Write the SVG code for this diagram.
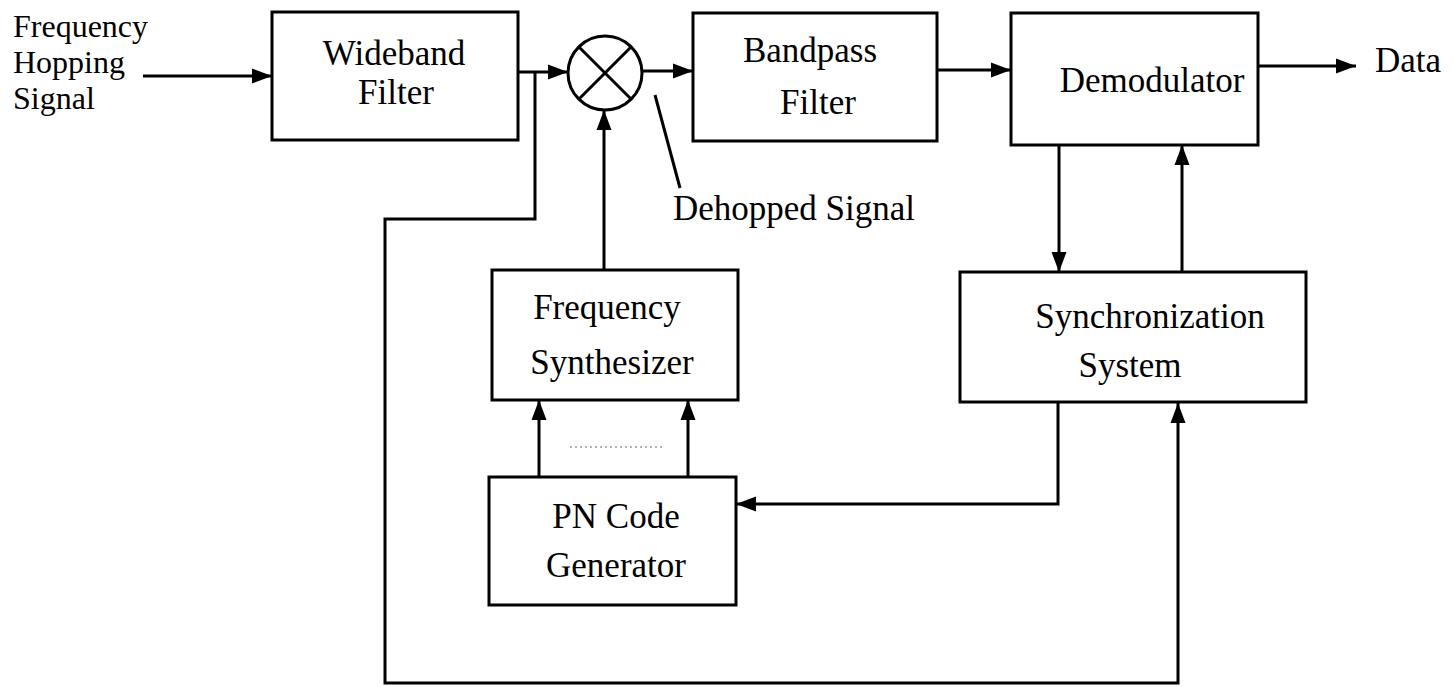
<svg xmlns="http://www.w3.org/2000/svg" width="1454" height="687" viewBox="0 0 1454 687">
<style>
.box{fill:#fff;stroke:#000;stroke-width:3}
.ln{fill:none;stroke:#000;stroke-width:3}
.arr{fill:none;stroke:#000;stroke-width:3;marker-end:url(#ah)}
text{font-family:"Liberation Serif","Times New Roman",serif;font-size:35px;fill:#000}
.c{text-anchor:middle}
.in{font-size:32px}
</style>
<defs>
<marker id="ah" markerUnits="userSpaceOnUse" markerWidth="22" markerHeight="18" refX="20" refY="9" orient="auto">
<path d="M0,1.5 L20,9 L0,16.5 Z" fill="#000"/>
</marker>
</defs>
<rect width="1454" height="687" fill="#fff"/>
<g id="connectors">
<line class="arr" x1="143" y1="76" x2="272" y2="76"/>
<line class="arr" x1="518" y1="72" x2="568" y2="72"/>
<polyline class="arr" points="535,72 535,219 385,219 385,683 1178,683 1178,403"/>
<line class="arr" x1="642" y1="71" x2="693" y2="71"/>
<line class="arr" x1="937" y1="70" x2="1011" y2="70"/>
<line class="arr" x1="1258" y1="66" x2="1356" y2="66"/>
<line class="arr" x1="1059" y1="145" x2="1059" y2="272"/>
<line class="arr" x1="1182" y1="272" x2="1182" y2="145"/>
<polyline class="arr" points="1058,402 1058,504 736,504"/>
<line class="arr" x1="539" y1="477" x2="539" y2="400"/>
<line class="arr" x1="688" y1="477" x2="688" y2="400"/>
<line class="arr" x1="604" y1="270" x2="604" y2="110"/>
<line x1="570" y1="447" x2="663" y2="447" stroke="#999" stroke-width="1.5" stroke-dasharray="2,3"/>
<line class="ln" x1="655" y1="95" x2="680" y2="188" stroke-width="2.5"/>
</g>
<g id="input-label">
<text class="in" x="13" y="37">Frequency</text>
<text class="in" x="13" y="73">Hopping</text>
<text class="in" x="13" y="109">Signal</text>
</g>
<g id="wideband-filter">
<rect class="box" x="272" y="12" width="246" height="128"/>
<text class="c" x="394" y="65">Wideband</text>
<text class="c" x="396" y="104">Filter</text>
</g>
<g id="mixer">
<circle cx="605" cy="73" r="37" fill="#fff" stroke="#000" stroke-width="3"/>
<line class="ln" x1="579" y1="47" x2="631" y2="99"/>
<line class="ln" x1="631" y1="47" x2="579" y2="99"/>
</g>
<g id="bandpass-filter">
<rect class="box" x="693" y="13" width="244" height="128"/>
<text class="c" x="810" y="62">Bandpass</text>
<text class="c" x="818" y="114">Filter</text>
</g>
<g id="demodulator">
<rect class="box" x="1011" y="13" width="247" height="132"/>
<text class="c" x="1152" y="92">Demodulator</text>
</g>
<g id="data-label">
<text x="1375" y="72">Data</text>
</g>
<g id="dehopped-label">
<text x="673" y="220">Dehopped Signal</text>
</g>
<g id="frequency-synthesizer">
<rect class="box" x="492" y="270" width="246" height="130"/>
<text class="c" x="607" y="319">Frequency</text>
<text class="c" x="612" y="374">Synthesizer</text>
</g>
<g id="pn-code-generator">
<rect class="box" x="489" y="477" width="247" height="128"/>
<text class="c" x="616" y="528">PN Code</text>
<text class="c" x="616" y="577">Generator</text>
</g>
<g id="synchronization-system">
<rect class="box" x="960" y="272" width="346" height="130"/>
<text class="c" x="1150" y="328">Synchronization</text>
<text class="c" x="1130" y="377">System</text>
</g>
</svg>
